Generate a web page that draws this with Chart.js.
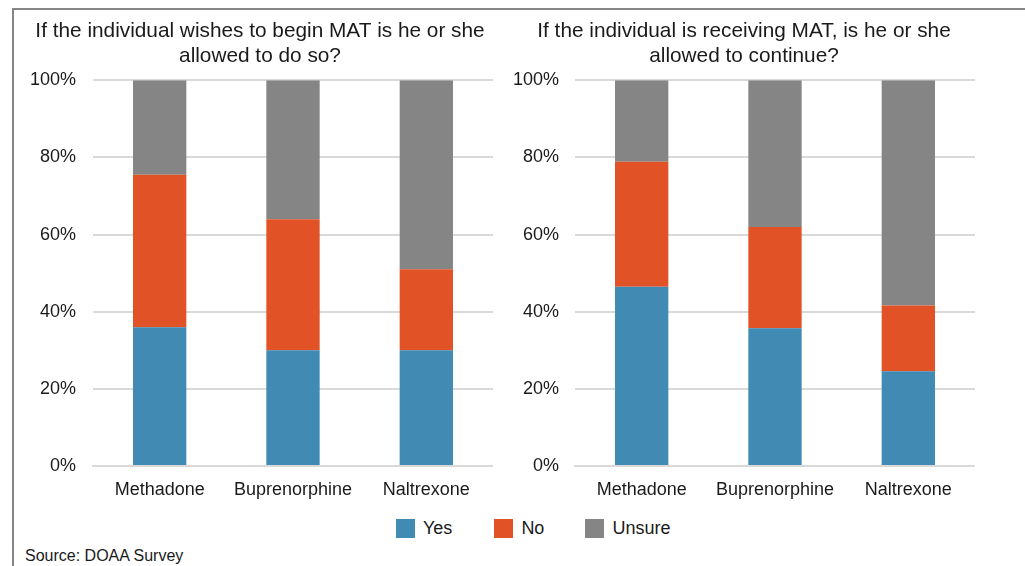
<!DOCTYPE html>
<html lang="en">
<head>
    <meta charset="UTF-8">
    <title>MAT Survey</title>
    <script src="https://cdn.jsdelivr.net/npm/chart.js"></script>
    <style>
        body {
            margin: 0;
            background: #fff;
            font-family: "Liberation Sans", Arial, sans-serif;
            color: #1a1a1a;
        }
        .page {
            position: relative;
            width: 1025px;
            height: 566px;
            overflow: hidden;
        }
        .frame {
            position: absolute;
            left: 12px;
            top: 8px;
            right: -10px;
            bottom: -10px;
            border-top: 2px solid #868686;
            border-left: 2px solid #868686;
        }
        canvas {
            position: absolute;
        }
        #chartBegin { left: 27px; top: 12px; }
        #chartContinue { left: 513px; top: 12px; }
        .legend {
            position: absolute;
            top: 519px;
            left: 396px;
            display: flex;
            font-size: 18px;
        }
        .legend div {
            display: flex;
            align-items: center;
            height: 19px;
        }
        .legend span.box {
            width: 19px;
            height: 19px;
            display: inline-block;
            margin-right: 8px;
        }
        .source {
            position: absolute;
            left: 25px;
            top: 547px;
            font-size: 16px;
        }
    </style>
</head>
<body>
<div class="page">
    <div class="frame"></div>
    <canvas id="chartBegin" width="466" height="500"></canvas>
    <canvas id="chartContinue" width="462" height="500"></canvas>
    <div class="legend" id="legend"></div>
    <div class="source">Source: DOAA Survey</div>
</div>

<script>
    const categories = ['Methadone', 'Buprenorphine', 'Naltrexone'];
    const seriesNames = ['Yes', 'No', 'Unsure'];
    const seriesColors = ['#418ab3', '#e15326', '#858585'];

    // left chart: wishes to begin MAT
    const beginYes = [36, 30, 30];
    const beginNo = [39.5, 34, 21];
    const beginUnsure = [24.5, 36, 49];

    // right chart: receiving MAT, allowed to continue
    const continueYes = [46.5, 35.7, 24.6];
    const continueNo = [32.4, 26.3, 17];
    const continueUnsure = [21.1, 38, 58.4];

    const yTicks = [0, 20, 40, 60, 80, 100];

    const font = "'Liberation Sans', Arial, sans-serif";
    const textColor = '#1a1a1a';
    const gridColor = '#d9d9d9';

    function makeChart(id, title, series, axisWidth, tickPad) {
        const datasets = series.map((values, i) => ({
            label: seriesNames[i],
            data: values,
            backgroundColor: seriesColors[i],
            barPercentage: 1,
            categoryPercentage: 0.4
        }));
        return new Chart(document.getElementById(id), {
            type: 'bar',
            data: { labels: categories, datasets: datasets },
            options: {
                responsive: false,
                animation: false,
                devicePixelRatio: 1,
                layout: { padding: 0 },
                plugins: {
                    legend: { display: false },
                    tooltip: { enabled: false },
                    title: {
                        display: true,
                        text: title,
                        color: textColor,
                        font: { family: font, size: 20.8, weight: 'normal', lineHeight: 1.21 },
                        padding: { top: 7, bottom: 11 }
                    }
                },
                scales: {
                    x: {
                        stacked: true,
                        grid: { display: false, drawTicks: false },
                        border: { color: gridColor, width: 2 },
                        ticks: { color: textColor, padding: 13, font: { family: font, size: 18 } },
                        afterFit: s => { s.height = 46; }
                    },
                    y: {
                        stacked: true,
                        min: 0,
                        max: 100,
                        afterBuildTicks: s => { s.ticks = yTicks.map(v => ({ value: v })); },
                        grid: { color: gridColor, lineWidth: 2, drawTicks: false },
                        border: { display: false },
                        ticks: {
                            color: textColor,
                            padding: tickPad,
                            font: { family: font, size: 18 },
                            callback: v => v + '%'
                        },
                        afterFit: s => { s.width = axisWidth; }
                    }
                }
            }
        });
    }

    makeChart('chartBegin',
        ['If the individual wishes to begin MAT is he or she', 'allowed to do so?'],
        [beginYes, beginNo, beginUnsure], 66, 17);

    makeChart('chartContinue',
        ['If the individual is receiving MAT, is he or she', 'allowed to continue?'],
        [continueYes, continueNo, continueUnsure], 62, 16);

    // shared legend
    const legend = document.getElementById('legend');
    const gaps = [42, 41, 0];
    seriesNames.forEach((name, i) => {
        const item = document.createElement('div');
        item.style.marginRight = gaps[i] + 'px';
        item.innerHTML = '<span class="box" style="background:' + seriesColors[i] + '"></span>' + name;
        legend.appendChild(item);
    });
</script>
</body>
</html>
